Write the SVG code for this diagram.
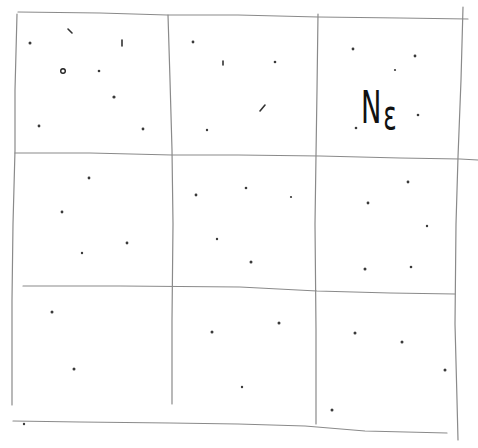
<svg xmlns="http://www.w3.org/2000/svg" width="478" height="448" viewBox="0 0 478 448">
<style>
.ln{fill:none;stroke:#8a8a8a;stroke-width:1.2;stroke-linecap:round;stroke-linejoin:round}
.dt{fill:#3a3a3a}
.mk{fill:none;stroke:#333;stroke-width:1.6;stroke-linecap:round}
.lbl{font-family:"DejaVu Sans","Liberation Sans",sans-serif;font-size:44px;fill:#111}
</style>
<rect width="478" height="448" fill="#fff"/>
<g id="grid">
<path class="ln" d="M18,12 L100,13 L167,15 L238,15 L318,17 L400,18 L468,19"/>
<path class="ln" d="M17,14 L15,90 L15,150 L13,224 L12,300 L12,405"/>
<path class="ln" d="M13,421 L80,422 L170,423 L238,424 L305,426 L365,431 L447,433"/>
<path class="ln" d="M463,7 L461,80 L458,157 L456,224 L455,324 L457,400 L458,440"/>
<path class="ln" d="M168,15 L170,80 L172,150 L173,224 L172,320 L172,404"/>
<path class="ln" d="M318,14 L317,90 L316,155 L315,224 L316,330 L316,424"/>
<path class="ln" d="M15,153 L90,153 L172,155 L238,155 L320,156 L400,158 L460,159 L478,160"/>
<path class="ln" d="M23,286 L120,286 L240,287 L317,291 L390,293 L455,294"/>
</g>
<g id="dots">
<circle class="dt" cx="30" cy="43" r="1.5"/>
<path class="mk" d="M68,29 L72,33"/>
<path class="mk" d="M122,40 L122,46"/>
<circle cx="63" cy="71" r="2.3" fill="none" stroke="#222" stroke-width="1.4"/>
<circle class="dt" cx="99" cy="71" r="1.3"/>
<circle class="dt" cx="114" cy="97" r="1.6"/>
<circle class="dt" cx="39" cy="126" r="1.4"/>
<circle class="dt" cx="143" cy="129" r="1.4"/>
<circle class="dt" cx="193" cy="42" r="1.4"/>
<path class="mk" d="M223,61 L223,65"/>
<circle class="dt" cx="207" cy="130" r="1.2"/>
<circle class="dt" cx="89" cy="178" r="1.4"/>
<circle class="dt" cx="62" cy="212" r="1.4"/>
<circle class="dt" cx="196" cy="195" r="1.4"/>
<circle class="dt" cx="275" cy="62" r="1.3"/>
<path class="mk" d="M260,111 L265,105"/>
<circle class="dt" cx="353" cy="49" r="1.4"/>
<circle class="dt" cx="415" cy="56" r="1.4"/>
<circle class="dt" cx="395" cy="70" r="1.1"/>
<circle class="dt" cx="356" cy="128" r="1.3"/>
<circle class="dt" cx="418" cy="115" r="1.3"/>
<circle class="dt" cx="246" cy="188" r="1.3"/>
<circle class="dt" cx="291" cy="197" r="1.1"/>
<circle class="dt" cx="408" cy="182" r="1.4"/>
<circle class="dt" cx="368" cy="203" r="1.4"/>
<circle class="dt" cx="82" cy="253" r="1.2"/>
<circle class="dt" cx="127" cy="243" r="1.4"/>
<circle class="dt" cx="217" cy="239" r="1.2"/>
<circle class="dt" cx="52" cy="312" r="1.5"/>
<circle class="dt" cx="74" cy="369" r="1.5"/>
<circle class="dt" cx="212" cy="332" r="1.5"/>
<circle class="dt" cx="24" cy="424" r="1.2"/>
<circle class="dt" cx="251" cy="262" r="1.5"/>
<circle class="dt" cx="365" cy="269" r="1.5"/>
<circle class="dt" cx="411" cy="267" r="1.3"/>
<circle class="dt" cx="427" cy="226" r="1.2"/>
<circle class="dt" cx="279" cy="323" r="1.5"/>
<circle class="dt" cx="355" cy="333" r="1.5"/>
<circle class="dt" cx="402" cy="342" r="1.5"/>
<circle class="dt" cx="445" cy="370" r="1.5"/>
<circle class="dt" cx="332" cy="410" r="1.5"/>
<circle class="dt" cx="242" cy="387" r="1.2"/>
</g>
<g id="label">
<text class="lbl" transform="translate(361,123) scale(0.62,1)">N<tspan font-size="40" dx="3" dy="6">ε</tspan></text>
</g>
</svg>
